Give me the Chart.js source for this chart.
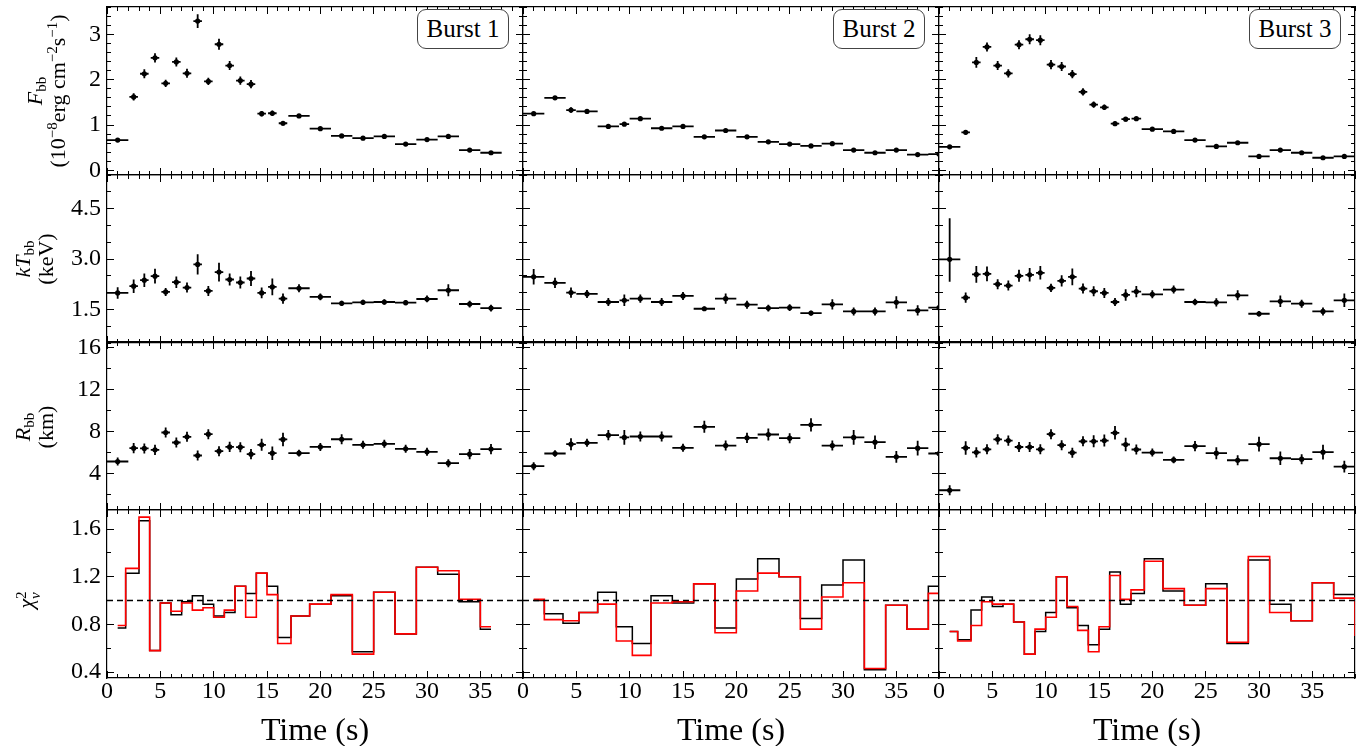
<!DOCTYPE html>
<html>
<head>
<meta charset="utf-8">
<script src="https://cdn.jsdelivr.net/npm/chart.js@4.4.1/dist/chart.umd.min.js"></script>
<style>
html,body{margin:0;padding:0;background:#fff;width:1368px;height:746px;overflow:hidden;font-family:'Liberation Serif','Times New Roman',serif;}
#wrap{position:relative;width:1368px;height:746px;}
#wrap canvas{position:absolute;}
.ylab{position:absolute;transform:translate(-50%,-50%) rotate(-90deg);text-align:center;white-space:nowrap;font-size:22px;line-height:23px;color:#000;z-index:5;}
.ylab sub,.ylab sup{font-size:0.68em;line-height:0;}
.ylab sub{vertical-align:-0.3em;}
.ylab sup{vertical-align:0.55em;}
.ss{display:inline-flex;flex-direction:column;font-size:0.68em;line-height:0.95;vertical-align:middle;text-align:left;}
.burst{position:absolute;box-sizing:border-box;border:1.3px solid #444;border-radius:9px;background:#fff;font-size:25px;color:#000;display:flex;align-items:center;justify-content:center;z-index:5;}
</style>
</head>
<body>
<div id="wrap"></div>
<script>
// ---------------- DATA ----------------
// Burst 1
const time1 = [1, 2.5, 3.5, 4.5, 5.5, 6.5, 7.5, 8.5, 9.5, 10.5, 11.5, 12.5, 13.5, 14.5, 15.5, 16.5, 18, 20, 22, 24, 26, 28, 30, 32, 34, 36];
const timeErr1 = [1, 0.4, 0.4, 0.4, 0.4, 0.4, 0.4, 0.4, 0.4, 0.4, 0.4, 0.4, 0.4, 0.4, 0.4, 0.4, 1, 1, 1, 1, 1, 1, 1, 1, 1, 1];
const flux1 = [0.67, 1.62, 2.13, 2.48, 1.92, 2.39, 2.14, 3.29, 1.96, 2.78, 2.31, 1.98, 1.90, 1.25, 1.26, 1.04, 1.20, 0.92, 0.76, 0.71, 0.75, 0.58, 0.68, 0.75, 0.45, 0.39];
const fluxErr1 = [0.03, 0.08, 0.1, 0.1, 0.08, 0.1, 0.1, 0.15, 0.08, 0.12, 0.1, 0.09, 0.09, 0.06, 0.06, 0.05, 0.04, 0.03, 0.03, 0.03, 0.03, 0.03, 0.03, 0.03, 0.03, 0.03];
const temp1 = [1.99, 2.19, 2.37, 2.49, 2.02, 2.31, 2.15, 2.84, 2.05, 2.61, 2.39, 2.30, 2.42, 1.99, 2.17, 1.82, 2.13, 1.87, 1.68, 1.71, 1.72, 1.70, 1.81, 2.07, 1.66, 1.54];
const tempErr1 = [0.17, 0.2, 0.2, 0.22, 0.12, 0.17, 0.15, 0.3, 0.15, 0.28, 0.18, 0.18, 0.22, 0.16, 0.25, 0.15, 0.12, 0.1, 0.08, 0.08, 0.08, 0.08, 0.1, 0.18, 0.1, 0.1];
const radius1 = [5.12, 6.39, 6.36, 6.23, 7.88, 6.93, 7.47, 5.69, 7.72, 6.10, 6.51, 6.48, 5.82, 6.71, 5.91, 7.22, 5.91, 6.51, 7.24, 6.71, 6.80, 6.33, 6.04, 4.96, 5.82, 6.30];
const radiusErr1 = [0.38, 0.48, 0.48, 0.48, 0.48, 0.48, 0.48, 0.48, 0.48, 0.48, 0.48, 0.48, 0.48, 0.57, 0.64, 0.64, 0.32, 0.38, 0.48, 0.38, 0.38, 0.38, 0.38, 0.38, 0.48, 0.48];
const redchiA1 = [0.77, 1.23, 1.67, 0.58, 0.98, 0.88, 0.99, 1.04, 0.97, 0.87, 0.90, 1.12, 1.06, 1.23, 1.12, 0.69, 0.87, 0.97, 1.04, 0.57, 1.07, 0.72, 1.28, 1.22, 0.99, 0.76];
const redchiB1 = [0.79, 1.27, 1.70, 0.58, 0.98, 0.91, 0.98, 0.92, 0.94, 0.86, 0.92, 1.12, 0.86, 1.23, 1.05, 0.64, 0.87, 0.97, 1.05, 0.55, 1.07, 0.72, 1.28, 1.25, 1.01, 0.78];

// Burst 2
const time2 = [1, 3, 4.5, 6, 8, 9.5, 11, 13, 15, 17, 19, 21, 23, 25, 27, 29, 31, 33, 35, 37, 39];
const timeErr2 = [1, 1, 0.45, 1, 1, 0.45, 1, 1, 1, 1, 1, 1, 1, 1, 1, 1, 1, 1, 1, 1, 1];
const flux2 = [1.25, 1.60, 1.33, 1.30, 0.97, 1.02, 1.14, 0.93, 0.97, 0.74, 0.88, 0.74, 0.63, 0.58, 0.54, 0.59, 0.45, 0.39, 0.45, 0.35, 0.36];
const fluxErr2 = [0.04, 0.04, 0.06, 0.03, 0.03, 0.04, 0.03, 0.03, 0.03, 0.03, 0.03, 0.03, 0.03, 0.02, 0.02, 0.02, 0.02, 0.02, 0.02, 0.02, 0.02];
const temp2 = [2.47, 2.29, 2.00, 1.96, 1.72, 1.77, 1.82, 1.72, 1.90, 1.52, 1.82, 1.64, 1.54, 1.55, 1.39, 1.65, 1.44, 1.44, 1.71, 1.47, 1.55];
const tempErr2 = [0.23, 0.15, 0.15, 0.12, 0.12, 0.17, 0.12, 0.12, 0.12, 0.07, 0.15, 0.12, 0.1, 0.1, 0.07, 0.15, 0.12, 0.12, 0.18, 0.15, 0.08];
const radius2 = [4.67, 5.88, 6.77, 6.90, 7.63, 7.41, 7.50, 7.50, 6.42, 8.42, 6.64, 7.37, 7.69, 7.34, 8.61, 6.64, 7.41, 6.96, 5.56, 6.39, 5.88];
const radiusErr2 = [0.38, 0.32, 0.57, 0.38, 0.48, 0.7, 0.48, 0.48, 0.38, 0.57, 0.48, 0.48, 0.57, 0.48, 0.64, 0.48, 0.7, 0.64, 0.57, 0.7, 0.38];
const redchiA2 = [1.00, 0.89, 0.81, 0.90, 1.07, 0.78, 0.64, 1.04, 0.98, 1.14, 0.77, 1.18, 1.35, 1.20, 0.85, 1.13, 1.34, 0.42, 0.96, 0.76, 1.12];
const redchiB2 = [1.01, 0.84, 0.83, 0.90, 0.97, 0.66, 0.54, 0.98, 0.99, 1.14, 0.73, 1.08, 1.23, 1.20, 0.76, 1.03, 1.15, 0.43, 0.96, 0.76, 1.06];

// Burst 3 (last time bin only visible as the clipped chi-square step)
const time3 = [1, 2.5, 3.5, 4.5, 5.5, 6.5, 7.5, 8.5, 9.5, 10.5, 11.5, 12.5, 13.5, 14.5, 15.5, 16.5, 17.5, 18.5, 20, 22, 24, 26, 28, 30, 32, 34, 36, 38, 40];
const timeErr3 = [1, 0.4, 0.4, 0.4, 0.4, 0.4, 0.4, 0.4, 0.4, 0.4, 0.4, 0.4, 0.4, 0.4, 0.4, 0.4, 0.4, 0.45, 1, 1, 1, 1, 1, 1, 1, 1, 1, 1];
const flux3 = [0.52, 0.84, 2.38, 2.72, 2.31, 2.14, 2.77, 2.89, 2.87, 2.33, 2.29, 2.12, 1.73, 1.45, 1.39, 1.03, 1.13, 1.14, 0.91, 0.86, 0.67, 0.53, 0.61, 0.31, 0.45, 0.39, 0.28, 0.31];
const fluxErr3 = [0.03, 0.05, 0.12, 0.1, 0.1, 0.09, 0.1, 0.11, 0.11, 0.1, 0.1, 0.09, 0.08, 0.07, 0.06, 0.05, 0.05, 0.04, 0.03, 0.03, 0.03, 0.03, 0.03, 0.03, 0.02, 0.02, 0.02, 0.02];
const temp3 = [2.99, 1.85, 2.54, 2.56, 2.25, 2.21, 2.50, 2.53, 2.59, 2.14, 2.35, 2.47, 2.12, 2.04, 1.99, 1.72, 1.93, 2.03, 1.95, 2.09, 1.72, 1.71, 1.92, 1.37, 1.74, 1.67, 1.44, 1.77];
const tempErr3 = [[0.67, 1.22], 0.15, 0.25, 0.22, 0.15, 0.15, 0.18, 0.2, 0.2, 0.12, 0.17, 0.25, 0.15, 0.15, 0.15, 0.12, 0.17, 0.17, 0.12, 0.12, 0.1, 0.12, 0.15, 0.08, 0.17, 0.12, 0.12, 0.2];
const radius3 = [2.38, 6.41, 5.99, 6.28, 7.23, 7.11, 6.50, 6.50, 6.28, 7.72, 6.67, 5.96, 7.04, 7.04, 7.11, 7.85, 6.74, 6.26, 5.97, 5.27, 6.58, 5.91, 5.24, 6.77, 5.43, 5.34, 6.01, 4.63];
const radiusErr3 = [0.48, 0.64, 0.48, 0.48, 0.48, 0.48, 0.48, 0.48, 0.48, 0.48, 0.48, 0.48, 0.48, 0.57, 0.57, 0.64, 0.64, 0.48, 0.38, 0.32, 0.48, 0.57, 0.48, 0.7, 0.64, 0.48, 0.7, 0.57];
const redchiA3 = [0.74, 0.67, 0.92, 1.03, 0.95, 0.97, 0.82, 0.55, 0.74, 0.90, 1.20, 0.94, 0.79, 0.63, 0.76, 1.24, 0.97, 1.06, 1.35, 1.08, 0.96, 1.14, 0.64, 1.34, 0.97, 0.83, 1.15, 1.05, 0.71];
const redchiB3 = [0.74, 0.66, 0.79, 0.99, 0.97, 0.97, 0.82, 0.55, 0.76, 0.86, 1.20, 0.95, 0.75, 0.57, 0.78, 1.21, 1.01, 1.09, 1.33, 1.10, 0.96, 1.10, 0.65, 1.37, 0.90, 0.83, 1.15, 1.02, 0.71];

const burstNames = ['Burst 1', 'Burst 2', 'Burst 3'];
const chiReference = 1.0;

// Tick values and labels
const xTicks = [0, 5, 10, 15, 20, 25, 30, 35];
const xTickLabels = ['0', '5', '10', '15', '20', '25', '30', '35'];
const fluxTicks = [0, 1, 2, 3];
const fluxTickLabels = ['0', '1', '2', '3'];
const tempTicks = [1.5, 3.0, 4.5];
const tempTickLabels = ['1.5', '3.0', '4.5'];
const radiusTicks = [4, 8, 12, 16];
const radiusTickLabels = ['4', '8', '12', '16'];
const chiTicks = [0.4, 0.8, 1.2, 1.6];
const chiTickLabels = ['0.4', '0.8', '1.2', '1.6'];

// ---------------- LAYOUT / STYLE ----------------
const FONT = "'Liberation Serif', 'Times New Roman', serif";
const colLeft = [107, 523, 939];
const panelW = 416;
const rowTop = [7, 175, 342, 510];
const panelH = 168;
const PAD = 6;
const XAXIS_H = 68;
const X_MIN = 0, X_MAX = 39;

const rowCfg = [
  {min: -0.1, max: 3.6, ticks: fluxTicks, labels: fluxTickLabels, minor: 0.2},
  {min: 0.5, max: 5.5, ticks: tempTicks, labels: tempTickLabels, minor: 0.5},
  {min: 0.5, max: 16.5, ticks: radiusTicks, labels: radiusTickLabels, minor: 2},
  {min: 0.35, max: 1.76, ticks: chiTicks, labels: chiTickLabels, minor: 0.2}
];

const bursts = [
  {t: time1, te: timeErr1, rows: [[flux1, fluxErr1], [temp1, tempErr1], [radius1, radiusErr1]], chiA: redchiA1, chiB: redchiB1},
  {t: time2, te: timeErr2, rows: [[flux2, fluxErr2], [temp2, tempErr2], [radius2, radiusErr2]], chiA: redchiA2, chiB: redchiB2},
  {t: time3, te: timeErr3, rows: [[flux3, fluxErr3], [temp3, tempErr3], [radius3, radiusErr3]], chiA: redchiA3, chiB: redchiB3}
];

Chart.defaults.font.family = FONT;

function minorVals(min, max, step) {
  const out = [];
  for (let k = Math.ceil(min / step - 1e-9); k * step <= max + 1e-9; k++) out.push(+(k * step).toFixed(6));
  return out;
}

function errSegs(t, y, xe, ye) {
  const out = [];
  for (let i = 0; i < y.length; i++) {
    const e = ye[i];
    const lo = Array.isArray(e) ? e[0] : e;
    const hi = Array.isArray(e) ? e[1] : e;
    out.push({x: t[i] - xe[i], y: y[i]}, {x: t[i] + xe[i], y: y[i]}, {x: t[i], y: null});
    out.push({x: t[i], y: y[i] - lo}, {x: t[i], y: y[i] + hi}, {x: t[i], y: null});
  }
  return out;
}

function axis(pos, min, max, vals, tl, weight, border) {
  return {
    type: 'linear', position: pos, min: min, max: max, weight: weight,
    grid: {drawOnChartArea: false, drawTicks: true, tickLength: tl, tickColor: '#000', tickWidth: 1},
    border: {display: border, color: '#000', width: 1.2},
    ticks: {display: false},
    title: {display: false},
    afterBuildTicks: s => { s.ticks = vals.map(v => ({value: v})); },
    afterFit: s => {
      if (s.isHorizontal()) s.height = 0; else s.width = 0;
      s.paddingLeft = s.paddingRight = s.paddingTop = s.paddingBottom = 0;
    }
  };
}

function buildScales(c, r) {
  const cfg = rowCfg[r];
  const isLeft = c === 0, isBottom = r === 3;
  const xMinor = minorVals(X_MIN, X_MAX, 1);
  const yMinor = minorVals(cfg.min, cfg.max, cfg.minor);
  const sc = {
    x: axis('bottom', X_MIN, X_MAX, xTicks, -7, 1, true),
    xMinor: axis('bottom', X_MIN, X_MAX, xMinor, -4, 0, false),
    xTop: axis('top', X_MIN, X_MAX, xTicks, -7, 1, true),
    xTopMinor: axis('top', X_MIN, X_MAX, xMinor, -4, 0, false),
    y: axis('left', cfg.min, cfg.max, cfg.ticks, -7, 1, true),
    yMinor: axis('left', cfg.min, cfg.max, yMinor, -4, 0, false),
    yRight: axis('right', cfg.min, cfg.max, cfg.ticks, -7, 1, true),
    yRightMinor: axis('right', cfg.min, cfg.max, yMinor, -4, 0, false)
  };
  const tickFont = {family: FONT, size: 24, lineHeight: 1};
  if (isBottom) {
    sc.x.ticks = {display: true, font: tickFont, color: '#000', padding: 9, autoSkip: false, maxRotation: 0, minRotation: 0,
      callback: (v, i) => xTickLabels[i]};
    sc.x.title = {display: true, text: 'Time (s)', color: '#000', font: {family: FONT, size: 32, lineHeight: 0.9}, padding: {top: 0, bottom: 0}};
    sc.x.afterFit = s => { s.height = XAXIS_H; s.paddingLeft = s.paddingRight = 0; };
  }
  if (isLeft) {
    sc.y.ticks = {display: true, font: tickFont, color: '#000', padding: 13, autoSkip: false,
      callback: (v, i) => cfg.labels[i]};
    sc.y.afterFit = s => { s.width = colLeft[0]; s.paddingTop = s.paddingBottom = 0; };
  }
  return sc;
}

function buildDatasets(c, r) {
  const b = bursts[c];
  if (r < 3) {
    const [vals, errs] = b.rows[r];
    return [
      {data: vals.map((v, i) => ({x: b.t[i], y: v})), showLine: false, pointRadius: 2.6, pointBackgroundColor: '#000', pointBorderWidth: 0, borderColor: '#000'},
      {data: errSegs(b.t, vals, b.te, errs), borderColor: '#000', borderWidth: 1.8, pointRadius: 0, spanGaps: false, tension: 0}
    ];
  }
  return [
    {data: [{x: X_MIN, y: chiReference}, {x: X_MAX, y: chiReference}], borderColor: '#000', borderWidth: 1.6, borderDash: [6, 4], pointRadius: 0},
    {data: b.chiB.map((v, i) => ({x: b.t[i], y: v})), stepped: 'middle', borderColor: '#ff0000', borderWidth: 1.6, pointRadius: 0},
    {data: b.chiA.map((v, i) => ({x: b.t[i], y: v})), stepped: 'middle', borderColor: '#000', borderWidth: 1.5, pointRadius: 0}
  ];
}

const wrap = document.getElementById('wrap');
for (let r = 0; r < 4; r++) {
  for (let c = 0; c < 3; c++) {
    const isLeft = c === 0, isBottom = r === 3;
    const left = isLeft ? 0 : colLeft[c] - PAD;
    const right = colLeft[c] + panelW + PAD;
    const top = rowTop[r] - PAD;
    const bottom = isBottom ? rowTop[r] + panelH + XAXIS_H : rowTop[r] + panelH + PAD;
    const cv = document.createElement('canvas');
    cv.width = right - left; cv.height = bottom - top;
    cv.style.left = left + 'px'; cv.style.top = top + 'px';
    cv.style.width = (right - left) + 'px'; cv.style.height = (bottom - top) + 'px';
    wrap.appendChild(cv);
    new Chart(cv.getContext('2d'), {
      type: 'line',
      data: {datasets: buildDatasets(c, r)},
      options: {
        responsive: false, animation: false, devicePixelRatio: 1, events: [],
        layout: {padding: {left: isLeft ? 0 : PAD, right: PAD, top: PAD, bottom: isBottom ? 0 : PAD}},
        plugins: {legend: {display: false}, tooltip: {enabled: false}, title: {display: false}},
        scales: buildScales(c, r)
      }
    });
  }
}

// Burst name boxes
burstNames.forEach((name, c) => {
  const d = document.createElement('div');
  d.className = 'burst';
  d.textContent = name;
  const w = 92, h = 40;
  d.style.left = (colLeft[c] + panelW - 14 - w) + 'px';
  d.style.top = '9px';
  d.style.width = w + 'px';
  d.style.height = h + 'px';
  wrap.appendChild(d);
});

// Y axis titles
const yTitles = [
  {html: '<i>F</i><sub>bb</sub><br>(10<sup>−8</sup>erg cm<sup>−2</sup>s<sup>−1</sup>)', x: 46, y: 91},
  {html: '<i>kT</i><sub>bb</sub><br>(keV)', x: 33.5, y: 259},
  {html: '<i>R</i><sub>bb</sub><br>(km)', x: 33.5, y: 427},
  {html: '<i>χ</i><span class="ss"><span>2</span><span><i>ν</i></span></span>', x: 28, y: 600}
];
yTitles.forEach(t => {
  const d = document.createElement('div');
  d.className = 'ylab';
  d.innerHTML = t.html;
  d.style.left = t.x + 'px';
  d.style.top = t.y + 'px';
  wrap.appendChild(d);
});
</script>
</body>
</html>
